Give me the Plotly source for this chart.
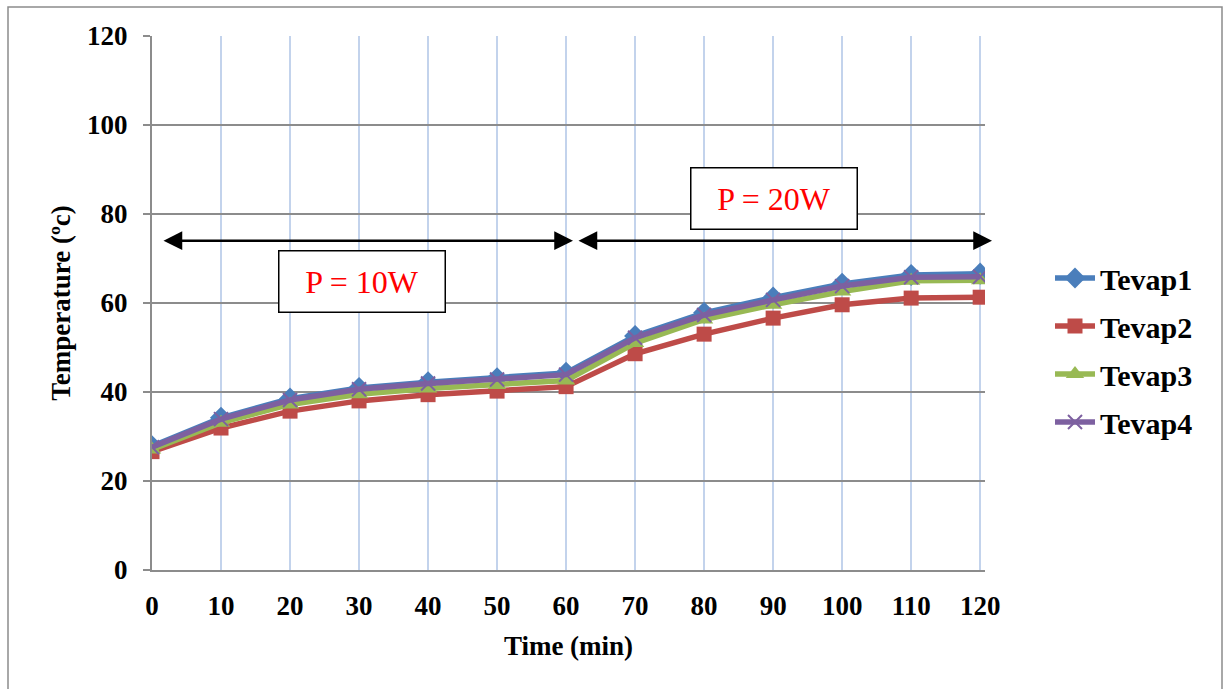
import plotly.graph_objects as go

time_min = [0, 10, 20, 30, 40, 50, 60, 70, 80, 90, 100, 110, 120]
tevap1 = [27.8, 34.2, 38.5, 40.9, 42.2, 43.1, 44.3, 52.6, 57.8, 61.2, 64.3, 66.3, 66.6]
tevap2 = [26.6, 31.9, 35.7, 38.0, 39.4, 40.2, 41.2, 48.6, 53.0, 56.6, 59.6, 61.1, 61.3]
tevap3 = [27.1, 33.1, 37.2, 39.5, 40.8, 41.6, 42.6, 51.0, 56.3, 59.6, 62.6, 65.0, 65.1]
tevap4 = [27.6, 33.9, 38.2, 40.6, 41.9, 42.8, 43.9, 52.2, 57.3, 60.7, 63.8, 65.8, 65.9]
y_ticks = [0, 20, 40, 60, 80, 100, 120]
x_ticks = [0, 10, 20, 30, 40, 50, 60, 70, 80, 90, 100, 110, 120]

SERIF = "Liberation Serif, Times New Roman, serif"

fig = go.Figure()
specs = [
    ("Tevap1", tevap1, "#4a7ebb", "diamond", 17, 0),
    ("Tevap2", tevap2, "#be4b48", "square", 15, 0),
    ("Tevap3", tevap3, "#98b954", "triangle-up", 16, 0),
    ("Tevap4", tevap4, "#7d60a0", "x-thin", 14, 2),
]
for i, (name, vals, col, sym, sz, lw) in enumerate(specs):
    fig.add_trace(go.Scatter(
        x=time_min, y=vals, name=name, mode="lines+markers",
        line=dict(color=col, width=5.5),
        marker=dict(symbol=sym, size=sz, color=col,
                    line=dict(color=col, width=lw)),
        legendgroup=f"g{i}",
    ))

L, R, T, B = 152, 985, 36, 570
W, H = 1230, 689
pw, ph = R - L, B - T

def px_x(px):
    return (px - L) / pw

def px_y(py):
    return (B - py) / ph

fig.update_layout(
    width=W, height=H,
    margin=dict(l=L, r=W - R, t=T, b=H - B, pad=0),
    paper_bgcolor="white", plot_bgcolor="white",
    font=dict(family=SERIF, size=27, color="black"),
    showlegend=True,
    legend=dict(
        x=px_x(1050), y=px_y(252), xanchor="left", yanchor="top",
        font=dict(family=SERIF, size=30, color="black", weight="bold"),
        tracegroupgap=6, itemwidth=40, bgcolor="rgba(0,0,0,0)",
    ),
    xaxis=dict(
        range=[0, 120.7], tickmode="array", tickvals=x_ticks,
        ticktext=[str(v) for v in x_ticks],
        showgrid=True, gridcolor="#c3d3ec", gridwidth=1.5,
        showline=True, linecolor="#8c8c8c", linewidth=2,
        zeroline=False, ticks="", ticklabelstandoff=11,
        tickfont=dict(family=SERIF, size=27, color="black", weight="bold"),
        title=dict(text="Time (min)", standoff=16,
                   font=dict(family=SERIF, size=27, color="black", weight="bold")),
    ),
    yaxis=dict(
        range=[0, 120], tickmode="array", tickvals=y_ticks,
        showgrid=True, gridcolor="#8c8c8c", gridwidth=1.5,
        showline=True, linecolor="#8c8c8c", linewidth=2,
        zeroline=False, ticks="outside", ticklen=7, tickcolor="#8c8c8c", tickwidth=2,
        ticklabelstandoff=10,
        tickfont=dict(family=SERIF, size=27, color="black", weight="bold"),
        title=dict(text="Temperature (ºc)", standoff=9,
                   font=dict(family=SERIF, size=27, color="black", weight="bold")),
    ),
)

# outer frame
fig.add_shape(type="rect", xref="paper", yref="paper",
              x0=px_x(8), x1=px_x(1222), y0=px_y(697), y1=px_y(7),
              line=dict(color="#8c8c8c", width=1.5), fillcolor="rgba(0,0,0,0)",
              layer="below")

arrow_y = 74
# double-headed arrows
for x_head_px, x_tail_px in [(573, 162), (992, 577)]:
    fig.add_annotation(
        x=px_x(x_head_px), y=arrow_y, xref="paper", yref="y",
        ax=x_tail_px - x_head_px, ay=0, axref="pixel", ayref="pixel",
        text="", showarrow=True, arrowhead=2, startarrowhead=2,
        arrowside="end+start", arrowsize=1.5, startarrowsize=1.5,
        arrowwidth=2.5, arrowcolor="black",
    )

for label, cx, cy in [("P = 10W", 362, 281), ("P = 20W", 774, 199)]:
    fig.add_annotation(
        x=px_x(cx), y=px_y(cy), xref="paper", yref="paper",
        text=label, showarrow=False, width=163, height=58,
        bgcolor="white", bordercolor="black", borderwidth=1.5,
        font=dict(family=SERIF, size=32, color="red"),
        xanchor="center", yanchor="middle",
    )

fig.write_html("out.html")
